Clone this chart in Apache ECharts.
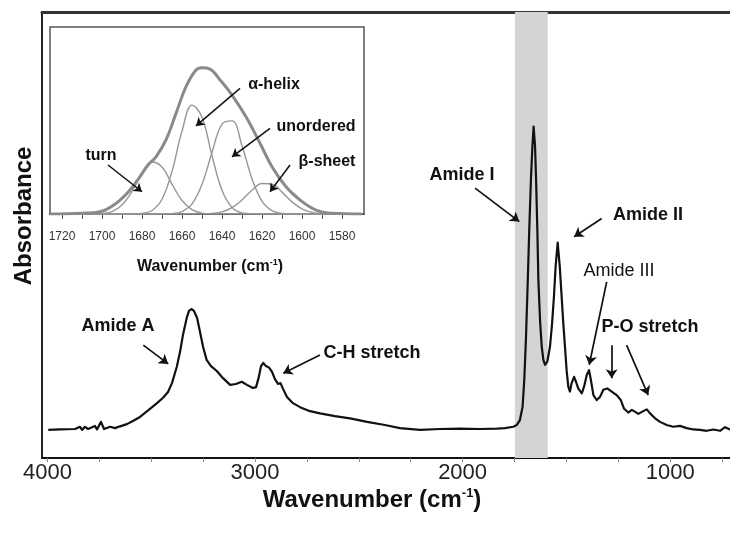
<!DOCTYPE html>
<html>
<head>
<meta charset="utf-8">
<script src="https://cdn.jsdelivr.net/npm/echarts@6/dist/echarts.min.js"></script>
<style>
  html, body { margin: 0; padding: 0; background: #ffffff; }
  #chart { width: 730px; height: 534px; }
</style>
</head>
<body>
<div id="chart"></div>
<script>
// ---- FTIR spectrum (wavenumber in cm-1, absorbance in arbitrary units) ----
const spectrumWavenumber = [
  3996, 3939, 3867, 3843, 3833, 3819, 3804, 3771, 3761, 3742,
  3727, 3698, 3674, 3650, 3617, 3588, 3554, 3506, 3472, 3443,
  3419, 3400, 3377, 3361, 3347, 3329, 3318, 3305, 3294, 3279,
  3265, 3250, 3233, 3212, 3184, 3154, 3120, 3092, 3064, 3039,
  3010, 2995, 2983, 2971, 2960, 2947, 2933, 2918, 2904, 2889,
  2877, 2865, 2846, 2817, 2783, 2735, 2687, 2615, 2542, 2460,
  2374, 2302, 2205, 2109, 2012, 1916, 1834, 1796, 1756, 1739,
  1724, 1711, 1703, 1695, 1686, 1679, 1671, 1664, 1658, 1651,
  1646, 1640, 1635, 1627, 1619, 1611, 1603, 1592, 1579, 1569,
  1560, 1552, 1542, 1532, 1523, 1515, 1507, 1499, 1491, 1483,
  1475, 1463, 1454, 1443, 1426, 1415, 1402, 1391, 1382, 1370,
  1354, 1338, 1322, 1303, 1282, 1258, 1238, 1223, 1202, 1185,
  1170, 1154, 1134, 1113, 1097, 1073, 1049, 1017, 985, 953,
  921, 889, 856, 824, 792, 760, 736, 712
];
const spectrumAbsorbance = [
  0.063, 0.064, 0.065, 0.070, 0.063, 0.070, 0.065, 0.072, 0.064, 0.081,
  0.065, 0.070, 0.067, 0.071, 0.076, 0.083, 0.092, 0.110, 0.123, 0.135,
  0.148, 0.168, 0.204, 0.238, 0.276, 0.314, 0.330, 0.334, 0.330, 0.314,
  0.283, 0.249, 0.220, 0.206, 0.195, 0.179, 0.164, 0.166, 0.171, 0.164,
  0.157, 0.159, 0.179, 0.206, 0.213, 0.206, 0.203, 0.193, 0.177, 0.166,
  0.168, 0.155, 0.137, 0.123, 0.114, 0.105, 0.100, 0.094, 0.089, 0.081,
  0.074, 0.067, 0.063, 0.065, 0.066, 0.065, 0.066, 0.067, 0.070, 0.074,
  0.085, 0.115, 0.175, 0.265, 0.399, 0.511, 0.623, 0.698, 0.743, 0.698,
  0.623, 0.511, 0.399, 0.309, 0.250, 0.220, 0.209, 0.216, 0.250, 0.302,
  0.362, 0.429, 0.483, 0.429, 0.362, 0.302, 0.250, 0.197, 0.160, 0.149,
  0.168, 0.182, 0.171, 0.156, 0.145, 0.160, 0.186, 0.197, 0.175, 0.141,
  0.130, 0.137, 0.153, 0.156, 0.149, 0.141, 0.130, 0.111, 0.102, 0.108,
  0.104, 0.099, 0.104, 0.109, 0.100, 0.089, 0.081, 0.074, 0.070, 0.072,
  0.067, 0.064, 0.063, 0.061, 0.064, 0.061, 0.069, 0.064
];
// Amide I region highlighted on the full spectrum
const amideIBand = [1748, 1590];

// Main axis ticks / labels
const mainTickValues = [750, 1000, 1250, 1500, 1750, 2000, 2250, 2500, 2750, 3000, 3250, 3500, 3750, 4000];
const mainLabelValues = [1000, 2000, 3000, 4000];

// ---- Amide I band deconvolution (inset) ----
const envelopeWavenumber = [1726, 1710, 1701, 1693, 1686, 1681, 1677, 1673, 1668, 1663, 1658, 1653, 1650,
  1646, 1641, 1635, 1628, 1621, 1615, 1608, 1601, 1593, 1585, 1570];
const envelopeAbsorbance = [0, 0.004, 0.012, 0.057, 0.128, 0.200, 0.262, 0.306, 0.396, 0.538, 0.681, 0.770, 0.782,
  0.775, 0.717, 0.636, 0.520, 0.378, 0.253, 0.146, 0.075, 0.021, 0.004, 0];

const componentWavenumber = [1725, 1720, 1715, 1710, 1705, 1700, 1695, 1690, 1685, 1680, 1675, 1670, 1665, 1660,
  1655, 1650, 1645, 1640, 1635, 1630, 1625, 1620, 1615, 1610, 1605, 1600, 1595, 1590, 1585, 1580, 1575, 1570];
const turnBand = [0, 0, 0, 0, 0.0004, 0.003, 0.013, 0.048, 0.121, 0.218, 0.278, 0.251, 0.160, 0.072,
  0.023, 0.005, 0.001, 0, 0, 0, 0, 0, 0, 0, 0, 0, 0, 0, 0, 0, 0, 0];
const helixBand = [0, 0, 0, 0, 0, 0, 0, 0, 0.0003, 0.003, 0.019, 0.079, 0.228, 0.443,
  0.582, 0.518, 0.312, 0.127, 0.035, 0.006, 0.001, 0, 0, 0, 0, 0, 0, 0, 0, 0, 0, 0];
const unorderedBand = [0, 0, 0, 0, 0, 0, 0, 0, 0, 0, 0, 0.0003, 0.002, 0.013,
  0.054, 0.159, 0.329, 0.481, 0.498, 0.365, 0.189, 0.069, 0.018, 0.003, 0.0004, 0, 0, 0, 0, 0, 0, 0];
const sheetBand = [0, 0, 0, 0, 0, 0, 0, 0, 0, 0, 0, 0, 0, 0,
  0.0001, 0.0006, 0.003, 0.011, 0.034, 0.075, 0.127, 0.163, 0.159, 0.117, 0.065, 0.028, 0.009, 0.002, 0.0002, 0, 0, 0];

const insetTickValues = [1580, 1590, 1600, 1610, 1620, 1630, 1640, 1650, 1660, 1670, 1680, 1690, 1700, 1710, 1720];
const insetLabelValues = [1580, 1600, 1620, 1640, 1660, 1680, 1700, 1720];

// Annotation arrows: [from, to] in (wavenumber, absorbance)
const mainArrows = [
  [[3538, 0.253], [3418, 0.211]],
  [[2687, 0.231], [2864, 0.190]],
  [[1940, 0.605], [1727, 0.530]],
  [[1330, 0.537], [1463, 0.496]],
  [[1306, 0.395], [1390, 0.209]],
  [[1282, 0.253], [1282, 0.179]],
  [[1210, 0.253], [1106, 0.141]]
];
const insetArrows = [
  [[1697, 0.262], [1680, 0.119]],
  [[1631, 0.672], [1653, 0.471]],
  [[1616, 0.458], [1635, 0.306]],
  [[1606, 0.262], [1616, 0.119]]
];

const FONT = '"Liberation Sans", Arial, Helvetica, sans-serif';

function zip(xs, ys) { return xs.map((x, i) => [x, ys[i]]); }
function plainNumber(v) { return String(v); }

const chart = echarts.init(document.getElementById('chart'), null, { renderer: 'canvas' });

function componentSeries(values) {
  return {
    type: 'line', xAxisIndex: 2, yAxisIndex: 1,
    data: zip(componentWavenumber, values),
    smooth: 0.4, showSymbol: false, silent: true,
    lineStyle: { color: '#969696', width: 1.4 },
    z: 4
  };
}

function textEl(text, x, y, size, weight, extra) {
  return Object.assign({
    type: 'text', x: x, y: y, z: 100, silent: true,
    style: {
      text: text, fill: '#111',
      font: weight + ' ' + size + 'px ' + FONT,
      textAlign: 'center', textVerticalAlign: 'middle',
      align: 'center', verticalAlign: 'middle'
    }
  }, extra || {});
}

const option = {
  backgroundColor: '#ffffff',
  animation: false,
  grid: [
    { left: 42, right: 0, top: 12, bottom: 76, containLabel: false },
    { left: 50, right: 366, top: 27, bottom: 320, containLabel: false,
      show: true, backgroundColor: '#ffffff', borderColor: '#555', borderWidth: 1.5, z: 1 }
  ],
  xAxis: [
    {
      gridIndex: 0, type: 'value', inverse: true, min: 712, max: 4026,
      axisLine: { show: true, lineStyle: { color: '#111', width: 2 } },
      axisTick: { show: true, customValues: mainTickValues, length: 4, lineStyle: { color: '#888', width: 1 } },
      axisLabel: { show: true, customValues: mainLabelValues, formatter: plainNumber,
        fontSize: 22, fontFamily: FONT, color: '#222', margin: 4 },
      splitLine: { show: false }
    },
    {
      gridIndex: 0, type: 'value', position: 'top', min: 712, max: 4026,
      axisLine: { show: true, onZero: false, lineStyle: { color: '#333', width: 3 } },
      axisTick: { show: false }, axisLabel: { show: false }, splitLine: { show: false }
    },
    {
      gridIndex: 1, type: 'value', inverse: true, min: 1569, max: 1726,
      axisLine: { show: true, onZero: false, lineStyle: { color: '#333', width: 2 } },
      axisTick: { show: true, customValues: insetTickValues, length: 5, lineStyle: { color: '#555', width: 1 } },
      axisLabel: { show: true, customValues: insetLabelValues, formatter: plainNumber,
        fontSize: 12, fontFamily: FONT, color: '#333', margin: 17 },
      splitLine: { show: false }
    }
  ],
  yAxis: [
    {
      gridIndex: 0, type: 'value', min: 0, max: 1,
      axisLine: { show: true, onZero: false, lineStyle: { color: '#222', width: 2 } },
      axisTick: { show: false }, axisLabel: { show: false }, splitLine: { show: false }
    },
    {
      gridIndex: 1, type: 'value', min: 0, max: 1,
      axisLine: { show: false }, axisTick: { show: false }, axisLabel: { show: false }, splitLine: { show: false }
    }
  ],
  series: [
    {
      type: 'line', xAxisIndex: 0, yAxisIndex: 0,
      data: zip(spectrumWavenumber, spectrumAbsorbance),
      showSymbol: false, silent: true,
      lineStyle: { color: '#111', width: 2.2, join: 'round' },
      markArea: {
        silent: true,
        itemStyle: { color: '#d4d4d4', opacity: 1 },
        data: [[{ xAxis: amideIBand[0] }, { xAxis: amideIBand[1] }]]
      },
      z: 3
    },
    componentSeries(turnBand),
    componentSeries(helixBand),
    componentSeries(unorderedBand),
    componentSeries(sheetBand),
    {
      type: 'line', xAxisIndex: 2, yAxisIndex: 1,
      data: zip(envelopeWavenumber, envelopeAbsorbance),
      smooth: 0.4, showSymbol: false, silent: true,
      lineStyle: { color: '#8a8a8a', width: 3 },
      z: 5
    },
    {
      type: 'lines', coordinateSystem: 'cartesian2d', xAxisIndex: 0, yAxisIndex: 0,
      data: mainArrows.map(a => ({ coords: a })),
      symbol: ['none', 'arrow'], symbolSize: 9, silent: true,
      lineStyle: { color: '#111', width: 1.7, opacity: 1 },
      z: 6
    },
    {
      type: 'lines', coordinateSystem: 'cartesian2d', xAxisIndex: 2, yAxisIndex: 1,
      data: insetArrows.map(a => ({ coords: a })),
      symbol: ['none', 'arrow'], symbolSize: 8, silent: true,
      lineStyle: { color: '#111', width: 1.5, opacity: 1 },
      z: 6
    }
  ],
  graphic: [
    textEl('Absorbance', 24, 216, 24, 'bold', { rotation: Math.PI / 2 }),
    {
      type: 'text', x: 372, y: 500, z: 100, silent: true,
      style: {
        text: 'Wavenumber (cm{sup|-1})', fill: '#111',
        font: 'bold 24px ' + FONT,
        textAlign: 'center', textVerticalAlign: 'middle', align: 'center', verticalAlign: 'middle',
        rich: { sup: { fontSize: 13, fontWeight: 'bold', fontFamily: FONT, verticalAlign: 'top', lineHeight: 26 } }
      }
    },
    {
      type: 'text', x: 210, y: 267, z: 100, silent: true,
      style: {
        text: 'Wavenumber (cm{sup|-1})', fill: '#111',
        font: 'bold 16px ' + FONT,
        textAlign: 'center', textVerticalAlign: 'middle', align: 'center', verticalAlign: 'middle',
        rich: { sup: { fontSize: 9, fontWeight: 'bold', fontFamily: FONT, verticalAlign: 'top', lineHeight: 18 } }
      }
    },
    textEl('Amide A', 118, 326, 18, 'bold'),
    textEl('C-H stretch', 372, 353, 18, 'bold'),
    textEl('Amide I', 462, 175, 18, 'bold'),
    textEl('Amide II', 648, 215, 18, 'bold'),
    textEl('Amide III', 619, 271, 18, 'normal'),
    textEl('P-O stretch', 650, 327, 18, 'bold'),
    textEl('turn', 101, 156, 16, 'bold'),
    textEl('α-helix', 274, 85, 16, 'bold'),
    textEl('unordered', 316, 127, 16, 'bold'),
    textEl('β-sheet', 327, 162, 16, 'bold')
  ]
};

chart.setOption(option);
</script>
</body>
</html>
